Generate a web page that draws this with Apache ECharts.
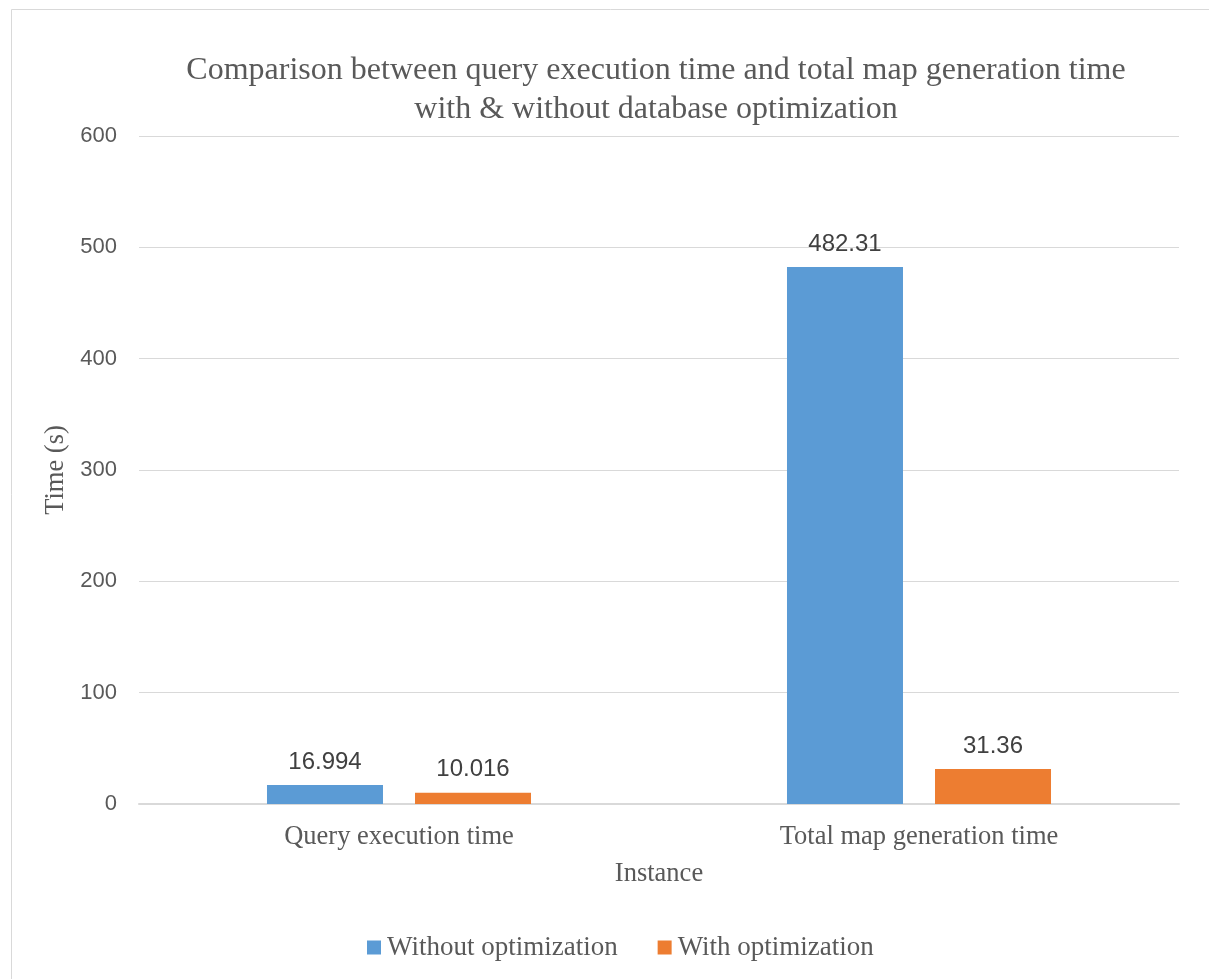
<!DOCTYPE html>
<html>
<head>
<meta charset="utf-8">
<script src="https://cdn.jsdelivr.net/npm/echarts@6/dist/echarts.min.js"></script>
<style>html,body{margin:0;padding:0;background:#fff;}#c{width:1209px;height:979px;}</style>
</head>
<body>
<div id="c"></div>
<script>
const categories = ['Query execution time', 'Total map generation time'];
const seriesNames = ['Without optimization', 'With optimization'];
const withoutOpt = [16.994, 482.31];
const withOpt = [10.016, 31.36];
const yTicks = [0, 100, 200, 300, 400, 500, 600];

const chart = echarts.init(document.getElementById('c'));
const serif = '"Liberation Serif", "Times New Roman", serif';
const sans = '"Liberation Sans", Arial, sans-serif';
chart.setOption({
  animation: false,
  backgroundColor: '#ffffff',
  graphic: [{
    type: 'rect', left: 9, top: 7,
    shape: { width: 1198, height: 990 },
    style: { fill: 'none', stroke: '#d9d9d9', lineWidth: 1 }
  }],
  title: {
    text: 'Comparison between query execution time and total map generation time\nwith & without database optimization',
    left: 651, top: 46, textAlign: 'center',
    textStyle: { fontFamily: serif, fontSize: 32, fontWeight: 'normal', color: '#595959', lineHeight: 39 }
  },
  legend: {
    top: 929, left: 362,
    itemWidth: 14, itemHeight: 14, itemGap: 40,
    icon: 'rect',
    textStyle: { fontFamily: serif, fontSize: 27, color: '#595959', padding: [0, 0, 0, 1] },
    data: seriesNames
  },
  grid: { left: 139, right: 30, top: 136, bottom: 175, containLabel: false },
  xAxis: {
    type: 'category', data: categories,
    name: 'Instance', nameLocation: 'middle', nameGap: 57,
    nameTextStyle: { fontFamily: serif, fontSize: 26.5, color: '#595959' },
    axisTick: { show: false },
    axisLine: { lineStyle: { color: '#d9d9d9', width: 2 } },
    axisLabel: { fontFamily: serif, fontSize: 26.5, color: '#595959', margin: 20 }
  },
  yAxis: {
    type: 'value', min: yTicks[0], max: yTicks[yTicks.length - 1], interval: 100,
    name: 'Time (s)', nameLocation: 'middle', nameGap: 60, nameRotate: 90,
    nameTextStyle: { fontFamily: serif, fontSize: 26.5, color: '#595959' },
    axisLine: { show: false }, axisTick: { show: false },
    axisLabel: { fontFamily: sans, fontSize: 22, color: '#595959', margin: 22 },
    splitLine: { lineStyle: { color: '#d9d9d9', width: 1 } }
  },
  series: [
    {
      name: seriesNames[0], type: 'bar', data: withoutOpt,
      barWidth: 116, barGap: '27.6%',
      itemStyle: { color: '#5B9BD5' },
      label: { show: true, position: 'top', distance: 11, fontFamily: sans, fontSize: 24, color: '#404040',
        formatter: p => String(p.value) }
    },
    {
      name: seriesNames[1], type: 'bar', data: withOpt,
      barWidth: 116,
      itemStyle: { color: '#ED7D31' },
      label: { show: true, position: 'top', distance: 11, fontFamily: sans, fontSize: 24, color: '#404040',
        formatter: p => String(p.value) }
    }
  ]
});
</script>
</body>
</html>
